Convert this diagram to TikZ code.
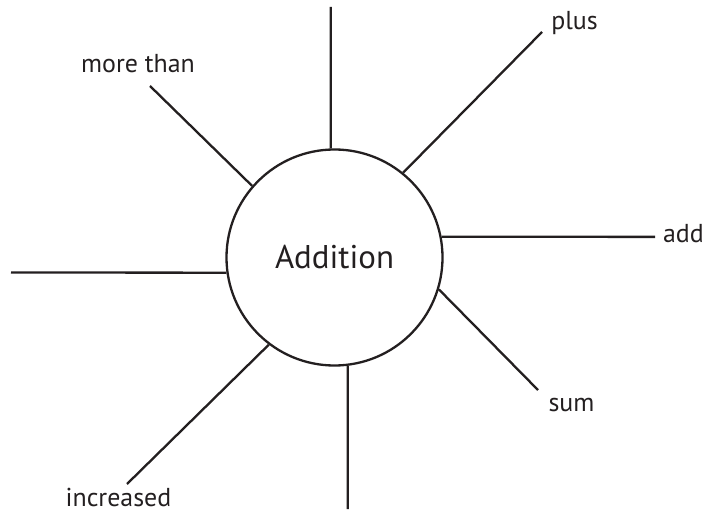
\documentclass[tikz,border=0pt]{standalone}
\usepackage{fontspec}
\setmainfont{PT Sans}
\definecolor{inkgray}{RGB}{35,31,32}
\usetikzlibrary{positioning}

\begin{document}
\begin{tikzpicture}[x=1bp,y=-1bp,line width=2.3bp,draw=inkgray,
    hubcircle/.style={circle,draw,inner sep=0pt,minimum size=216bp,
      font=\fontsize{33}{38}\selectfont,text=inkgray},
    spokelabel/.style={anchor=base,inner sep=0pt,
      font=\fontsize{26}{30}\selectfont,text=inkgray}]
  \useasboundingbox (0,0) rectangle (709,512);

  % Centre: the word circle
  \node[hubcircle] (hub) at (334.5,257.5) {Addition};

  % Free ends of the spokes
  \coordinate (eN)  at (330.7,7);
  \coordinate (eNE) at (542,32);
  \coordinate (eE)  at (655,236.9);
  \coordinate (eSE) at (538,390);
  \coordinate (eS)  at (347.7,509);
  \coordinate (eSW) at (127,484);
  \coordinate (eW)  at (11,272.5);
  \coordinate (eNW) at (150,86);

  % Spokes
  \draw (hub.92)   -- (eN);
  \draw (hub.51.7) -- (eNE);
  \draw (hub.11)   -- (eE);
  \draw (hub.-17.4) -- (eSE);
  \draw (hub.-83)  -- (eS);
  \draw (hub.-127.2) -- (eSW);
  \draw (hub.188)  -- (eW);
  \draw (hub.139.5) -- (eNW);

  % Labels at the spoke ends
  \node[spokelabel] (lplus) at (574.5,30)  {plus};
  \node[spokelabel] (ladd)  at (683.5,243) {add};
  \node[spokelabel] (lsum)  at (571.5,411) {sum};
  \node[spokelabel] (lincr) at (118.5,506) {increased};
  \node[spokelabel] (lmore) at (138,73)    {more than};
\end{tikzpicture}
\end{document}
